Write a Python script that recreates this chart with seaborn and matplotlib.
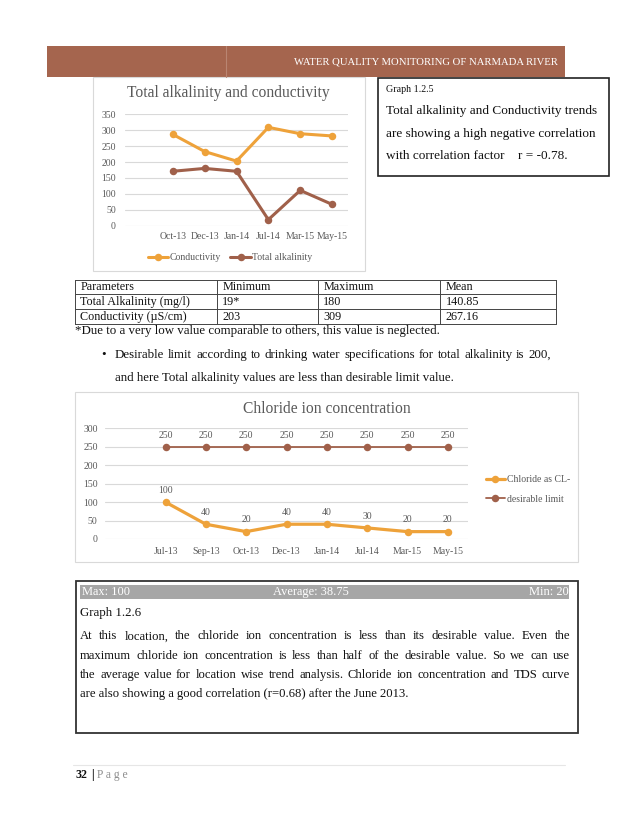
import matplotlib
matplotlib.use("Agg")
import matplotlib.pyplot as plt
import seaborn as sns
import pandas as pd
from matplotlib.lines import Line2D
from matplotlib.patches import Rectangle

# ---------------- data ----------------
alk_months = ["Oct-13", "Dec-13", "Jan-14", "Jul-14", "Mar-15", "May-15"]
conductivity = [287, 233, 203, 309, 289, 282]
total_alkalinity = [171, 180, 171, 19, 111, 67]
alk_yticks = [0, 50, 100, 150, 200, 250, 300, 350]

chl_months = ["Jul-13", "Sep-13", "Oct-13", "Dec-13", "Jan-14", "Jul-14", "Mar-15", "May-15"]
chloride = [100, 40, 20, 40, 40, 30, 20, 20]
desirable_limit = [250, 250, 250, 250, 250, 250, 250, 250]
chl_yticks = [0, 50, 100, 150, 200, 250, 300]

table_header = ["Parameters", "Minimum", "Maximum", "Mean"]
table_row1 = ["Total Alkalinity (mg/l)", "19*", "180", "140.85"]
table_row2 = ["Conductivity (\u00b5S/cm)", "203", "309", "267.16"]
chl_stats = ["Max: 100", "Average: 38.75", "Min: 20"]

ORANGE = "#EEA23A"
BROWN = "#A0604A"
GRAY_TXT = "#595959"
GRID = "#D9D9D9"

sns.set_theme(style="white")
plt.rcParams['font.family'] = ['Liberation Serif', 'DejaVu Serif']

W, H = 638, 826
fig = plt.figure(figsize=(W / 100, H / 100), dpi=100)
page = fig.add_axes([0, 0, 1, 1])
page.set_xlim(0, W)
page.set_ylim(H, 0)
page.axis('off')
renderer = fig.canvas.get_renderer()


def rect(x0, y0, x1, y1):
    return [x0 / W, 1 - y1 / H, (x1 - x0) / W, (y1 - y0) / H]


def txt(x, y, s, size=8.6, ha='left', color='#111111', **kw):
    return page.text(x, y, s, fontsize=size, ha=ha, va='center', color=color, **kw)


def justify(line, x0, x1, y, size, color='#111111'):
    words = line.split()
    ts = [txt(0, y, w, size=size, color=color) for w in words]
    widths = [t.get_window_extent(renderer).width for t in ts]
    gap = (x1 - x0 - sum(widths)) / max(len(words) - 1, 1)
    x = x0
    for t, w in zip(ts, widths):
        t.set_x(x)
        x += w + gap


TICK = 7.0

# ---------------- header ----------------
page.add_patch(Rectangle((47, 46), 518, 31, facecolor="#A5654E", edgecolor='none'))
page.plot([226, 226], [46, 77], color="#B98572", lw=0.8)
txt(558, 62, "WATER QUALITY MONITORING OF NARMADA RIVER", size=7.7, ha='right', color='white')

# ---------------- chart 1 ----------------
page.add_patch(Rectangle((93, 77), 272, 194, facecolor='white', edgecolor=GRID, lw=0.8))
txt(228, 93, "Total alkalinity and conductivity", size=11.2, ha='center', color=GRAY_TXT)

ax1 = fig.add_axes(rect(125, 114.3, 348, 225.7))
df1 = pd.DataFrame({
    "month": alk_months + alk_months,
    "value": conductivity + total_alkalinity,
    "series": ["Conductivity"] * len(alk_months) + ["Total alkalinity"] * len(alk_months),
})
sns.lineplot(data=df1, x="month", y="value", hue="series",
             palette={"Conductivity": ORANGE, "Total alkalinity": BROWN},
             marker="o", markersize=5.4, markeredgewidth=0, linewidth=2.2,
             sort=False, legend=False, ax=ax1)
ax1.set_xlim(-1.5, len(alk_months) - 0.5)
ax1.set_ylim(0, 350)
ax1.set_yticks(alk_yticks)
ax1.set_xlabel("")
ax1.set_ylabel("")
ax1.grid(axis='y', color=GRID, lw=0.8)
ax1.set_axisbelow(True)
for s in ax1.spines.values():
    s.set_visible(False)
ax1.tick_params(axis='y', length=0, labelsize=TICK, colors=GRAY_TXT, pad=6.5)
ax1.tick_params(axis='x', length=0, labelsize=TICK, colors=GRAY_TXT, pad=4.5)
h1 = [Line2D([], [], color=ORANGE, lw=2.2, marker='o', ms=5.4, mew=0),
      Line2D([], [], color=BROWN, lw=2.2, marker='o', ms=5.4, mew=0)]
ax1.legend(h1, ["Conductivity", "Total alkalinity"], loc='center', ncol=2,
           bbox_to_anchor=(230 / W, 1 - 257.7 / H), bbox_transform=fig.transFigure,
           frameon=False, fontsize=TICK, handlelength=2.1, handletextpad=0.15,
           columnspacing=1.0, labelcolor=GRAY_TXT)

# ---------------- graph 1.2.5 box ----------------
page.add_patch(Rectangle((377.5, 77.5), 231.5, 98.5, facecolor='white', edgecolor='#222222', lw=1.2))
txt(386, 89.5, "Graph 1.2.5", size=7.2, family=['Liberation Serif', 'DejaVu Serif'])
txt(386, 110.8, "Total alkalinity and Conductivity trends", size=9.5)
txt(386, 133.8, "are showing a high negative correlation", size=9.5)
txt(386, 155.7, "with correlation factor    r = -0.78.", size=9.5)

# ---------------- table ----------------
tx = [75, 216.7, 317.7, 440, 556]
ty = [280, 294, 309.3, 324.3]
for y in ty:
    page.plot([tx[0], tx[-1]], [y, y], color='#444444', lw=0.7)
for x in tx:
    page.plot([x, x], [ty[0], ty[-1]], color='#444444', lw=0.7)
for r, row in enumerate([table_header, table_row1, table_row2]):
    yc = (ty[r] + ty[r + 1]) / 2
    for c, cell in enumerate(row):
        txt(tx[c] + 5.5, yc, cell, size=8.7)

BODY = 9.3
txt(75, 331, "*Due to a very low value comparable to others, this value is neglected.", size=BODY)
txt(101, 355, "\u2022", size=BODY)
justify("Desirable limit according to drinking water specifications for total alkalinity is 200,",
        115, 551, 355, BODY)
txt(115, 378, "and here Total alkalinity values are less than desirable limit value.", size=BODY)

# ---------------- chart 2 ----------------
page.add_patch(Rectangle((75, 391.7), 502.5, 170, facecolor='white', edgecolor=GRID, lw=0.8))
txt(326.7, 409, "Chloride ion concentration", size=11.2, ha='center', color=GRAY_TXT)

ax2 = fig.add_axes(rect(105, 428.3, 468, 539))
df_c = pd.DataFrame({"month": chl_months, "value": chloride})
df_d = pd.DataFrame({"month": chl_months, "value": desirable_limit})
sns.lineplot(data=df_c, x="month", y="value", color=ORANGE, marker="o", markersize=5.4,
             markeredgewidth=0, linewidth=2.3, sort=False, ax=ax2)
sns.lineplot(data=df_d, x="month", y="value", color=BROWN, marker="o", markersize=5.4,
             markeredgewidth=0, linewidth=1.3, sort=False, ax=ax2)
for i, v in enumerate(chloride):
    ax2.annotate(str(v), (i, v), xytext=(0, 8.4), textcoords='offset points',
                 ha='center', va='center', fontsize=TICK, color=GRAY_TXT)
for i, v in enumerate(desirable_limit):
    ax2.annotate(str(v), (i, v), xytext=(0, 8.4), textcoords='offset points',
                 ha='center', va='center', fontsize=TICK, color=GRAY_TXT)
ax2.set_xlim(-1.5, len(chl_months) - 0.5)
ax2.set_ylim(0, 300)
ax2.set_yticks(chl_yticks)
ax2.set_xlabel("")
ax2.set_ylabel("")
ax2.grid(axis='y', color=GRID, lw=0.8)
ax2.set_axisbelow(True)
for s in ax2.spines.values():
    s.set_visible(False)
ax2.tick_params(axis='y', length=0, labelsize=TICK, colors=GRAY_TXT, pad=5.3)
ax2.tick_params(axis='x', length=0, labelsize=TICK, colors=GRAY_TXT, pad=5.4)
h2 = [Line2D([], [], color=ORANGE, lw=2.3, marker='o', ms=5.4, mew=0),
      Line2D([], [], color=BROWN, lw=1.3, marker='o', ms=5.4, mew=0)]
ax2.legend(h2, ["Chloride as CL-", "desirable limit"], loc='center left',
           bbox_to_anchor=(477 / W, 1 - 489.5 / H), bbox_transform=fig.transFigure,
           frameon=False, fontsize=TICK, handlelength=2.0, handletextpad=0.15,
           labelspacing=1.1, labelcolor=GRAY_TXT)

# ---------------- graph 1.2.6 box ----------------
page.add_patch(Rectangle((76, 581), 501.5, 151.5, facecolor='white', edgecolor='#333333', lw=1.3))
page.add_patch(Rectangle((80, 585), 489, 14.3, facecolor='#A6A6A6', edgecolor='none'))
txt(82, 592.2, chl_stats[0], size=8.9, color='white')
txt(273, 592.2, chl_stats[1], size=8.9, color='white')
txt(569, 592.2, chl_stats[2], size=8.9, ha='right', color='white')
PARA = 9.1
txt(80, 613, "Graph 1.2.6", size=9.3)
para = [
    "At this location, the chloride ion concentration is less than its desirable value. Even the",
    "maximum chloride ion concentration is less than half of the desirable value. So we can use",
    "the average value for location wise trend analysis. Chloride ion concentration and TDS curve",
]
for line, y in zip(para, [636.3, 655.7, 675.3]):
    justify(line, 80, 570, y, PARA)
txt(80, 694, "are also showing a good correlation (r=0.68) after the June 2013.", size=PARA)

# ---------------- footer ----------------
page.plot([73, 565], [764.5, 764.5], color='#E6E6E6', lw=0.8)
txt(75, 775, "32", size=8.6, fontweight='bold')
txt(91.5, 775, "|", size=8.6, fontweight='bold')
txt(97, 775, "P a g e", size=8.3, color='#8C8C8C')

fig.savefig("out.png", dpi=100, facecolor='white')
